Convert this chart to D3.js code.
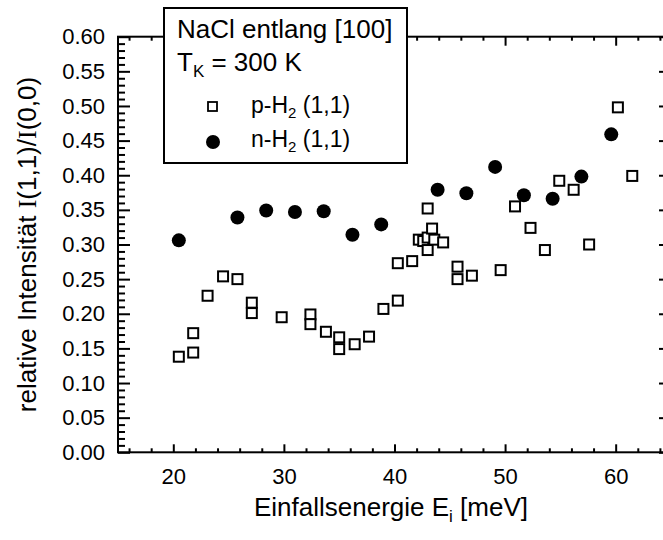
<!DOCTYPE html>
<html>
<head>
<meta charset="utf-8">
<script src="https://cdn.jsdelivr.net/npm/d3@7"></script>
<style>
  body { margin: 0; background: #fff; }
  text { font-family: "Liberation Sans", Arial, Helvetica, sans-serif; fill: #000; }
</style>
</head>
<body>
<div id="chart"></div>
<script>
// p-H2 (1,1), open squares
const pH2Energy = [20.5, 21.8, 21.8, 23.1, 24.5, 25.8, 27.1, 27.1, 29.8, 32.4, 32.4, 33.8, 35.0, 35.0, 36.4, 37.7, 39.0,
    40.3, 40.3, 41.6, 42.2, 42.6, 43.0, 43.6, 44.4, 43.0, 43.4, 43.0,
    45.7, 45.7, 47.0, 49.6, 50.9, 52.3, 53.6, 54.9, 56.2, 57.6, 60.2, 61.5];
const pH2Ratio = [0.138, 0.144, 0.172, 0.226, 0.254, 0.250, 0.216, 0.201, 0.195, 0.199, 0.185, 0.174, 0.166, 0.149, 0.156, 0.167, 0.207,
    0.219, 0.273, 0.276, 0.307, 0.305, 0.310, 0.307, 0.303, 0.292, 0.323, 0.352,
    0.268, 0.250, 0.255, 0.263, 0.355, 0.324, 0.292, 0.392, 0.379, 0.300, 0.498, 0.399];

// n-H2 (1,1), filled circles
const nH2Energy = [20.5, 25.8, 28.4, 31.0, 33.6, 36.2, 38.8, 43.9, 46.5, 49.1, 51.7, 54.3, 56.9, 59.6];
const nH2Ratio = [0.306, 0.339, 0.349, 0.347, 0.348, 0.314, 0.329, 0.379, 0.374, 0.412, 0.371, 0.366, 0.398, 0.459];

const xTickLabels = [20, 30, 40, 50, 60];
const yTickLabels = [0, 0.05, 0.10, 0.15, 0.20, 0.25, 0.30, 0.35, 0.40, 0.45, 0.50, 0.55, 0.60];

const W = 663, H = 540;
const plot = { left: 118, right: 664, top: 36.7, bottom: 452.3 };

const svg = d3.select("#chart").append("svg")
    .attr("width", W)
    .attr("height", H);

const x = d3.scaleLinear().domain([15, 64.37]).range([plot.left, plot.right]);
const y = d3.scaleLinear().domain([0, 0.6]).range([plot.bottom, plot.top]);

const xMinor = d3.range(16, 65, 2).filter(v => v % 10 !== 0);
const yMinor = d3.range(1, 60).filter(v => v % 5 !== 0).map(v => v / 100);

function styleAxis(g) {
    g.select(".domain").remove();
    g.selectAll(".tick line").attr("stroke", "#000").attr("stroke-width", 2);
}

// bottom axis, ticks inside
svg.append("g")
    .attr("transform", `translate(0,${plot.bottom})`)
    .call(d3.axisBottom(x).tickValues(xTickLabels).tickSize(-8).tickPadding(16).tickFormat(d3.format("d")))
    .call(styleAxis)
    .call(g => g.selectAll("text").attr("font-size", 22));
svg.append("g")
    .attr("transform", `translate(0,${plot.bottom})`)
    .call(d3.axisBottom(x).tickValues(xMinor).tickSize(-4).tickFormat(""))
    .call(styleAxis);

// top axis, ticks inside
svg.append("g")
    .attr("transform", `translate(0,${plot.top})`)
    .call(d3.axisTop(x).tickValues(xTickLabels).tickSize(-9).tickFormat(""))
    .call(styleAxis);
svg.append("g")
    .attr("transform", `translate(0,${plot.top})`)
    .call(d3.axisTop(x).tickValues(xMinor).tickSize(-4).tickFormat(""))
    .call(styleAxis);

// left axis
svg.append("g")
    .attr("transform", `translate(${plot.left},0)`)
    .call(d3.axisLeft(y).tickValues(yTickLabels).tickSize(-12).tickPadding(13).tickFormat(d3.format(".2f")))
    .call(styleAxis)
    .call(g => g.selectAll("text").attr("font-size", 22));
svg.append("g")
    .attr("transform", `translate(${plot.left},0)`)
    .call(d3.axisLeft(y).tickValues(yMinor).tickSize(-7).tickFormat(""))
    .call(styleAxis);

// right axis, only the 0.05 steps
svg.append("g")
    .attr("transform", `translate(${plot.right},0)`)
    .call(d3.axisRight(y).tickValues(yTickLabels).tickSize(-5).tickFormat(""))
    .call(styleAxis);

// frame
svg.append("rect")
    .attr("x", plot.left).attr("y", plot.top)
    .attr("width", plot.right - plot.left).attr("height", plot.bottom - plot.top)
    .attr("fill", "none").attr("stroke", "#000").attr("stroke-width", 2);

// data
svg.append("g").selectAll("rect")
    .data(pH2Energy.map((e, i) => [e, pH2Ratio[i]]))
    .join("rect")
    .attr("x", d => x(d[0]) - 5)
    .attr("y", d => y(d[1]) - 5)
    .attr("width", 10).attr("height", 10)
    .attr("fill", "#fff").attr("stroke", "#000").attr("stroke-width", 2);

svg.append("g").selectAll("circle")
    .data(nH2Energy.map((e, i) => [e, nH2Ratio[i]]))
    .join("circle")
    .attr("cx", d => x(d[0]))
    .attr("cy", d => y(d[1]))
    .attr("r", 7)
    .attr("fill", "#000");

// axis titles
const xt = svg.append("text")
    .attr("x", (plot.left + plot.right) / 2)
    .attr("y", 516)
    .attr("text-anchor", "middle")
    .attr("font-size", 26);
xt.append("tspan").text("Einfallsenergie E");
xt.append("tspan").attr("font-size", 17).attr("dy", 6).text("i");
xt.append("tspan").attr("dy", -6).text(" [meV]");

const yt = svg.append("text")
    .attr("transform", `translate(36,${(plot.top + plot.bottom) / 2}) rotate(-90)`)
    .attr("text-anchor", "middle")
    .attr("font-size", 26);
yt.append("tspan").text("relative Intensität ");
yt.append("tspan").style("font-family", "'Liberation Serif', serif").text("I");
yt.append("tspan").text("(1,1)/");
yt.append("tspan").style("font-family", "'Liberation Serif', serif").text("I");
yt.append("tspan").text("(0,0)");

// legend box
const lg = svg.append("g");
lg.append("rect")
    .attr("x", 164).attr("y", 8).attr("width", 243).attr("height", 155)
    .attr("fill", "#fff").attr("stroke", "#000").attr("stroke-width", 2);
lg.append("text").attr("x", 177).attr("y", 38).attr("font-size", 26).text("NaCl entlang [100]");
const tk = lg.append("text").attr("x", 177).attr("y", 71).attr("font-size", 26);
tk.append("tspan").text("T");
tk.append("tspan").attr("font-size", 17).attr("dy", 6).text("K");
tk.append("tspan").attr("dy", -6).text(" = 300 K");

lg.append("rect")
    .attr("x", 208).attr("y", 102).attr("width", 9).attr("height", 9)
    .attr("fill", "#fff").attr("stroke", "#000").attr("stroke-width", 1.8);
const p = lg.append("text").attr("x", 251).attr("y", 113).attr("font-size", 23);
p.append("tspan").text("p-H");
p.append("tspan").attr("font-size", 15).attr("dy", 5).text("2");
p.append("tspan").attr("dy", -5).text(" (1,1)");

lg.append("circle").attr("cx", 213).attr("cy", 142).attr("r", 7).attr("fill", "#000");
const n = lg.append("text").attr("x", 251).attr("y", 147).attr("font-size", 23);
n.append("tspan").text("n-H");
n.append("tspan").attr("font-size", 15).attr("dy", 5).text("2");
n.append("tspan").attr("dy", -5).text(" (1,1)");
</script>
</body>
</html>
